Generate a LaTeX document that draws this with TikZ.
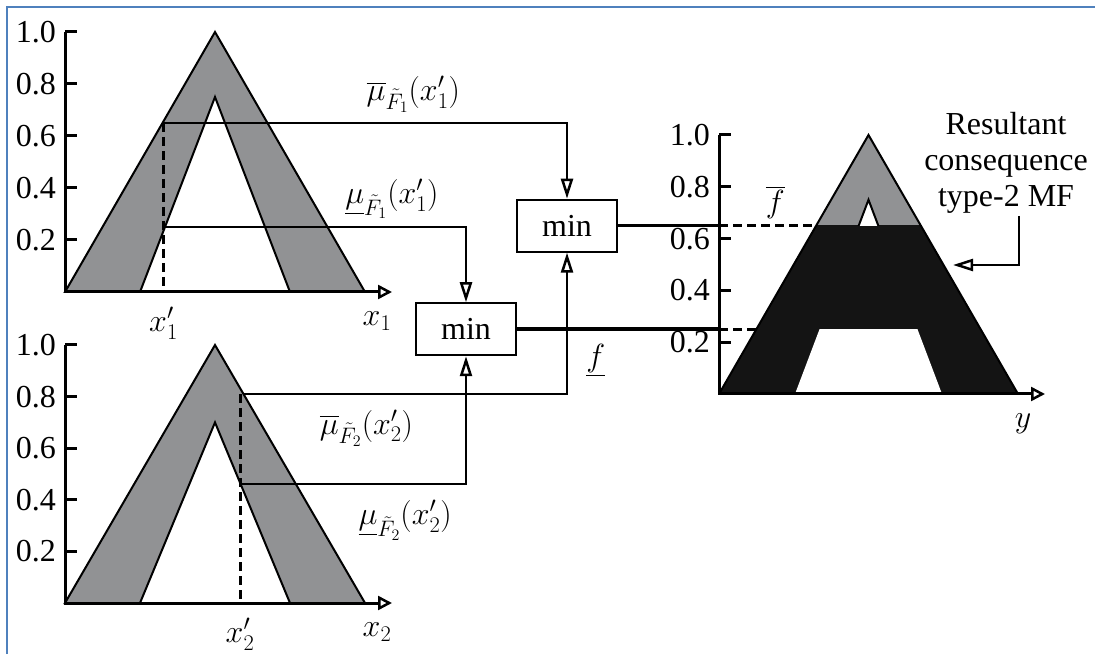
\RequirePackage{fix-cm}
\documentclass[tikz,border=0pt]{standalone}
\usepackage{fontspec}
\setmainfont{Liberation Serif}
\usepackage{amsmath}
\usetikzlibrary{arrows.meta, positioning, calc}

\definecolor{mfgray}{RGB}{145,146,148}
\definecolor{mfblack}{RGB}{20,20,20}
\definecolor{frameblue}{RGB}{79,129,189}

% axes of one membership plot: prefix, x end, label x, label text
\newcommand{\mfaxes}[4]{%
  \draw[axisline] (0,1) -- (0,0) -- (#2,0);
  \foreach \v [count=\i] in {0.2,0.4,0.6,0.8,1.0}{
    \draw[tickline] (0,\v) -- (12,\v);
    \node[ticklabel] (#1t\i) at (0,\v) {\v};
  }
  \coordinate (#1end) at (#3,0);
  \node[axlabel] (#1lab) at ([yshift=-20pt]#1end) {#4};
}

\begin{document}
\begin{tikzpicture}[
  x=1pt, y=1pt,
  font=\fontsize{32}{36}\selectfont,
  mfline/.style={draw=black, line width=2pt, line join=miter},
  axisline/.style={line width=3pt, -{Triangle[open, length=14pt, width=14pt, line width=2.5pt]}},
  tickline/.style={line width=3pt},
  ticklabel/.style={anchor=east, inner sep=0pt, xshift=-9pt},
  axlabel/.style={anchor=north, inner sep=0pt},
  dashline/.style={line width=3pt, dash pattern=on 9pt off 5pt},
  link/.style={line width=2pt, -{Triangle[open, length=20pt, width=12pt, line width=2.5pt]}},
  outline/.style={line width=3.5pt},
  minbox/.style={draw, line width=2pt, fill=white, minimum width=100pt,
                 minimum height=52pt, inner sep=0pt},
  lab/.style={inner sep=1pt}
]
\useasboundingbox (0,0) rectangle (1095,654);
\draw[frameblue, line width=2pt] (7,0) -- (7,647) -- (1095,647);

% first antecedent
\begin{scope}[shift={(65,362)}, y=260pt]
  \filldraw[mfline, fill=mfgray] (0,0) -- (150,1) -- (300,0) -- cycle;
  \filldraw[mfline, fill=white] (75,0) -- (150,0.75) -- (225,0) -- cycle;
  \mfaxes{a}{327}{312}{$x_1$}
  \coordinate (hi1) at (97.5,0.65);
  \coordinate (lo1) at (100,0.25);
  \coordinate (x1p) at (98.5,0);
  \draw[dashline] (x1p |- hi1) -- (x1p);
  \node[axlabel] (x1plab) at ([yshift=-15pt]x1p) {$x'_1$};
\end{scope}

% second antecedent
\begin{scope}[shift={(65,51)}, y=258pt]
  \filldraw[mfline, fill=mfgray] (0,0) -- (150,1) -- (300,0) -- cycle;
  \filldraw[mfline, fill=white] (75,0) -- (150,0.7) -- (225,0) -- cycle;
  \mfaxes{b}{327}{312}{$x_2$}
  \coordinate (hi2) at (178.5,0.81);
  \coordinate (lo2) at (175.7,0.46);
  \coordinate (x2p) at (175,0);
  \draw[dashline] (x2p |- hi2) -- (x2p);
  \node[axlabel] (x2plab) at ([yshift=-15pt]x2p) {$x'_2$};
\end{scope}

% consequent
\begin{scope}[shift={(719,260)}, y=259pt]
  \fill[mfgray] (0,0) -- (149.5,1) -- (299,0) -- cycle;
  \begin{scope}
    \clip (-5,-0.02) rectangle (310,0.65);
    \fill[mfblack] (0,0) -- (149.5,1) -- (299,0) -- cycle;
  \end{scope}
  \begin{scope}
    \clip (-5,-0.02) rectangle (310,0.25);
    \fill[white] (76,0) -- (149.5,0.75) -- (223,0) -- cycle;
  \end{scope}
  \begin{scope}
    \clip (-5,0.65) rectangle (310,1.1);
    \filldraw[mfline, fill=white] (76,0) -- (149.5,0.75) -- (223,0) -- cycle;
  \end{scope}
  \draw[mfline] (0,0) -- (149.5,1) -- (299,0);
  \mfaxes{c}{326}{304}{$y$}
  \coordinate (fhi) at (0,0.65);
  \coordinate (fhiE) at (97.2,0.65);
  \coordinate (flo) at (0,0.25);
  \coordinate (floE) at (37.4,0.25);
\end{scope}

\coordinate (colA) at (567,0);
\coordinate (colB) at (466,0);
\node[minbox] (minA) at (colA |- fhi) {min};
\node[minbox] (minB) at (colB |- flo) {min};

\draw[link] (hi1) -| node[lab, pos=0.31, above=8pt] {$\overline{\mu}_{\tilde F_1}(x'_1)$} (minA.north);
\draw[link] (lo1) -| node[lab, pos=0.377, above=6pt] {$\underline{\mu}_{\tilde F_1}(x'_1)$} (minB.north);
\draw[link] (hi2) -| node[lab, pos=0.19, below=14pt] {$\overline{\mu}_{\tilde F_2}(x'_2)$} (minA.south);
\draw[link] (lo2) -| node[lab, pos=0.365, below=14pt] {$\underline{\mu}_{\tilde F_2}(x'_2)$} (minB.south);

\draw[outline] (minA.east) -- (fhi);
\draw[outline] (minB.east) -- node[lab, pos=0.39, below=12pt] {$\underline{f}$} (flo);
\draw[dashline] (fhi) -- node[lab, pos=0.58, above=4pt] {$\overline{f}$} (fhiE);
\draw[dashline] (flo) -- (floE);

\node[align=center, inner sep=2pt] (res) at (1006,491) {Resultant\\consequence\\type-2 MF};
\coordinate (resbend) at (1019,389);
\coordinate (resTip) at (953,389);
\draw[link] (res.south -| resbend) -- (resbend) -- (resTip);
\end{tikzpicture}
\end{document}
